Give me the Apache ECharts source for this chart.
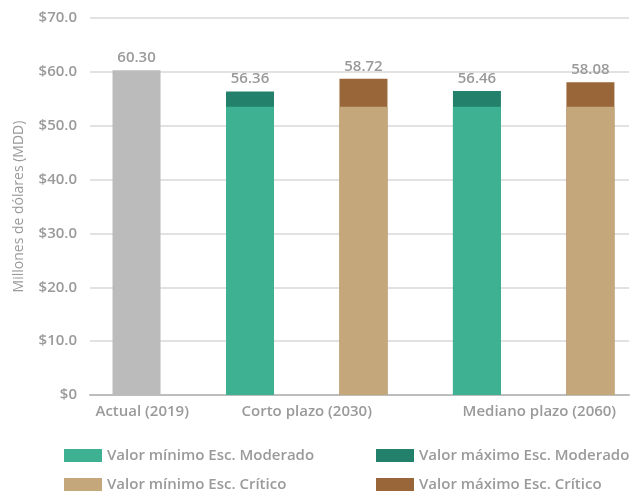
<!DOCTYPE html>
<html>
<head>
<meta charset="utf-8">
<script src="https://cdn.jsdelivr.net/npm/echarts@6/dist/echarts.min.js"></script>
<style>
  html, body { margin: 0; padding: 0; background: #fff; }
  #chart { width: 631px; height: 496px; }
</style>
</head>
<body>
<div id="chart"></div>
<script>
// etiquetas del eje x
const periods = ['Actual (2019)', 'Corto plazo (2030)', 'Mediano plazo (2060)']
const periodPos = [0.05, 1.5, 3.55]

// posiciones de las barras (indice de barra)
const actualPos = [0]
const modPos = [1, 3]
const critPos = [2, 4]

// valores (MDD)
const actualValue = [60.30]
const modMin = [53.5, 53.5]
const modMax = [56.36, 56.46]
const critMin = [53.5, 53.5]
const critMax = [58.72, 58.08]

const grayText = '#9a9a9a'
const font = '"Open Sans", "Noto Sans", sans-serif'

const myChart = echarts.init(document.getElementById('chart'))

function pairs(pos, vals) {
    return pos.map((p, i) => [p, vals[i]])
}

const topLabel = (totals) => ({
    show: true,
    position: 'top',
    distance: 5,
    color: grayText,
    fontFamily: font,
    fontWeight: 600,
    fontSize: 15,
    formatter: p => totals[p.dataIndex].toFixed(2)
})

const barBase = {
    type: 'bar',
    barWidth: 48,
    barGap: '-100%'
}

// una leyenda por elemento para la cuadricula 2x2
function legendItem(name, left, top) {
    return {
        data: [name],
        left: left,
        top: top,
        padding: 0,
        itemWidth: 38,
        itemHeight: 13,
        icon: 'rect',
        textStyle: { color: grayText, fontSize: 15, fontWeight: 600, fontFamily: font }
    }
}

myChart.setOption({
    animation: false,
    grid: {
        left: 90,
        right: 2,
        top: 18,
        bottom: 101
    },
    legend: [
        legendItem('Valor mínimo Esc. Moderado', 64, 448),
        legendItem('Valor máximo Esc. Moderado', 376, 448),
        legendItem('Valor mínimo Esc. Crítico', 64, 477),
        legendItem('Valor máximo Esc. Crítico', 376, 477)
    ],
    xAxis: {
        type: 'value',
        min: -0.41,
        max: 4.34,
        splitLine: { show: false },
        axisTick: { show: false },
        axisLine: { show: true, lineStyle: { color: '#bdbdbd', width: 2 } },
        axisLabel: {
            customValues: periodPos,
            margin: 9,
            color: grayText,
            fontFamily: font,
            fontWeight: 600,
            fontSize: 15,
            formatter: v => {
                const i = periodPos.indexOf(v)
                return i >= 0 ? periods[i] : ''
            }
        }
    },
    yAxis: {
        type: 'value',
        min: 0,
        max: 70,
        interval: 10,
        name: 'Millones de dólares (MDD)',
        nameLocation: 'middle',
        nameGap: 64,
        nameTextStyle: { color: grayText, fontSize: 14, fontFamily: font },
        axisLine: { show: false },
        axisTick: { show: false },
        splitLine: { lineStyle: { color: '#e2e2e2', width: 2 } },
        axisLabel: {
            margin: 13,
            color: grayText,
            fontFamily: font,
            fontWeight: 600,
            fontSize: 15,
            formatter: v => v === 0 ? '$0' : '$' + v.toFixed(1)
        }
    },
    // la barra del maximo va detras y la del minimo encima
    series: [
        Object.assign({}, barBase, {
            name: 'Actual',
            itemStyle: { color: '#bbbbbb' },
            label: topLabel(actualValue),
            data: pairs(actualPos, actualValue)
        }),
        Object.assign({}, barBase, {
            name: 'Valor máximo Esc. Moderado',
            itemStyle: { color: '#22806b' },
            label: topLabel(modMax),
            data: pairs(modPos, modMax)
        }),
        Object.assign({}, barBase, {
            name: 'Valor mínimo Esc. Moderado',
            itemStyle: { color: '#3fb193' },
            data: pairs(modPos, modMin)
        }),
        Object.assign({}, barBase, {
            name: 'Valor máximo Esc. Crítico',
            itemStyle: { color: '#99663a' },
            label: topLabel(critMax),
            data: pairs(critPos, critMax)
        }),
        Object.assign({}, barBase, {
            name: 'Valor mínimo Esc. Crítico',
            itemStyle: { color: '#c4a87b' },
            data: pairs(critPos, critMin)
        })
    ]
})
window.addEventListener('resize', myChart.resize)
</script>
</body>
</html>
